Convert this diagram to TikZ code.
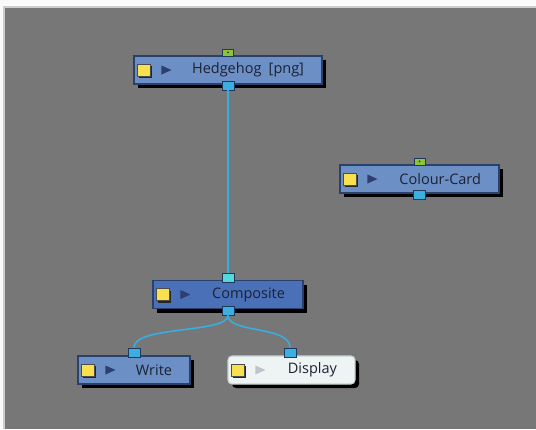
\documentclass[tikz,border=0pt]{standalone}
\usepackage{fontspec}
\setmainfont{Open Sans}
\usetikzlibrary{calc,shadows}

\definecolor{canvasgrey}{HTML}{777777}
\definecolor{framegrey}{HTML}{CDCDCD}
\definecolor{paper}{HTML}{FAFAFA}
\definecolor{boxblue}{HTML}{6C8FC5}
\definecolor{compblue}{HTML}{4A70B8}
\definecolor{boxedge}{HTML}{2A416B}
\definecolor{boxtext}{HTML}{1C2233}
\definecolor{dispfill}{HTML}{EEF4F4}
\definecolor{dispedge}{HTML}{C9D2D4}
\definecolor{wireblue}{HTML}{36AEE2}
\definecolor{portblue}{HTML}{3DAEE0}
\definecolor{portedge}{HTML}{1D3A5E}
\definecolor{portcyan}{HTML}{55D8DA}
\definecolor{portgreen}{HTML}{8CC53A}
\definecolor{swatch}{HTML}{F8E04E}
\definecolor{arrowdark}{HTML}{2C3F6E}
\definecolor{arrowpale}{HTML}{BCC5CB}

\begin{document}
\begin{tikzpicture}[x=1pt, y=-1pt,
  fxbox/.style={draw=boxedge, line width=1.1pt, fill=boxblue, minimum height=28pt,
    inner xsep=18pt, inner ysep=0pt, align=right, text=boxtext,
    font=\fontsize{14.5}{16}\selectfont,
    drop shadow={shadow xshift=4pt, shadow yshift=-4pt, fill=black, opacity=1}},
  dispbox/.style={fxbox, fill=dispfill, draw=dispedge, rounded corners=4pt},
  outport/.style={draw=portedge, fill=portblue, line width=0.8pt,
    minimum width=12pt, minimum height=9pt, inner sep=0pt},
  inport/.style={outport, fill=portcyan},
  greenport/.style={outport, fill=portgreen, minimum width=11pt, minimum height=7pt},
  wire/.style={draw=wireblue, line width=1.6pt}]

  % ---- canvas ----
  \fill[paper] (0,0) rectangle (536,429);
  \fill[framegrey] (3,6) rectangle (536,429);
  \fill[canvasgrey] (5,8) rectangle (536,429);

  % ---- effect nodes ----
  \node[fxbox, text width=152pt] (hedgehog) at (228,70) {Hedgehog\enspace[png]};
  \node[fxbox, text width=123pt] (colourcard) at (419.5,179) {Colour-Card};
  \node[fxbox, fill=compblue, text width=114pt] (composite) at (228,294.5) {Composite};
  \node[fxbox, text width=76pt] (write) at (134,370) {Write};
  \node[dispbox, text width=91pt] (display) at (291.5,370) {Display};

  % ---- swatches and play arrows ----
  \foreach \n/\tri in {hedgehog/arrowdark, colourcard/arrowdark, composite/arrowdark,
                       write/arrowdark, display/arrowpale} {
    \fill[black!85] ($(\n.west)+(6,-4)$) rectangle ++(13,12);
    \filldraw[fill=swatch, draw=black!70, line width=0.5pt]
      ($(\n.west)+(4,-6)$) rectangle ++(13,12);
    \fill[\tri] ($(\n.west)+(28,-4.5)$) -- ($(\n.west)+(38,0)$) -- ($(\n.west)+(28,4.5)$) -- cycle;
  }

  % ---- ports ----
  \node[greenport] (hedgehog-top) at ($(hedgehog.north)+(0,-3)$) {};
  \fill[black!80] (hedgehog-top) circle (1pt);
  \node[outport] (hedgehog-out) at ($(hedgehog.south)+(0,1)$) {};
  \node[greenport] (colourcard-top) at ($(colourcard.north)+(0,-3)$) {};
  \fill[black!80] (colourcard-top) circle (1pt);
  \node[outport] (colourcard-out) at ($(colourcard.south)+(0,1)$) {};
  \node[inport] (composite-in) at ($(composite.north)+(0,-2)$) {};
  \node[outport] (composite-out) at ($(composite.south)+(0,1.5)$) {};
  \node[outport] (write-in) at ($(write.north)+(0,-3)$) {};
  \node[outport] (display-in) at ($(display.north)+(-1.5,-3)$) {};

  % ---- connections ----
  \draw[wire] (hedgehog-out) -- (composite-in);
  \draw[wire] (composite-out.south) .. controls +(0,18) and +(0,-22) .. (write-in.north);
  \draw[wire] (composite-out.south) .. controls +(0,18) and +(0,-22) .. (display-in.north);
\end{tikzpicture}
\end{document}
